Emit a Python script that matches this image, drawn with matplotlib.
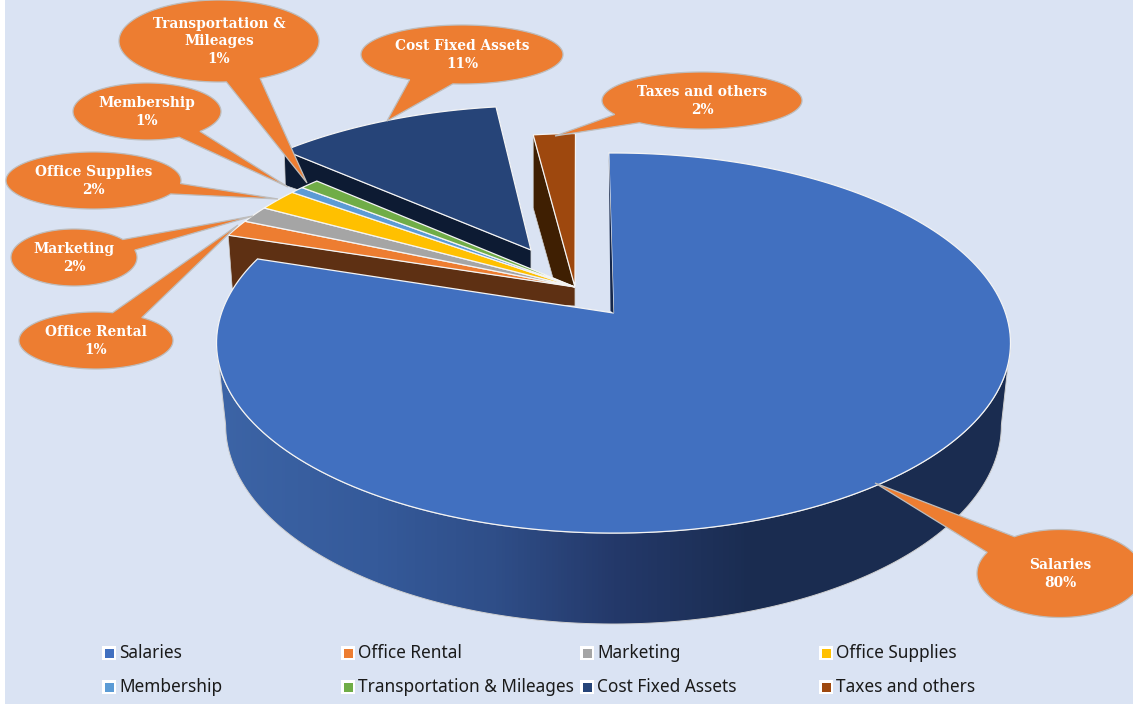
import numpy as np
import matplotlib
matplotlib.use('Agg')
import matplotlib.pyplot as plt
from matplotlib.colors import LinearSegmentedColormap
from matplotlib.patches import Polygon, Rectangle

categories = ['Salaries', 'Office Rental', 'Marketing', 'Office Supplies', 'Membership',
              'Transportation & Mileages', 'Cost Fixed Assets', 'Taxes and others']
shares = [80.17, 1.49, 1.51, 1.94, 0.64, 0.92, 11.3, 2.03]
pct_labels = ['80%', '1%', '2%', '2%', '1%', '1%', '11%', '2%']
colors = ['#4170C0', '#ED7D31', '#A5A5A5', '#FFC000', '#5B9BD5', '#70AD47', '#264478', '#9E480E']
label_lines = ['Salaries', 'Office Rental', 'Marketing', 'Office Supplies', 'Membership',
               'Transportation &\nMileages', 'Cost Fixed Assets', 'Taxes and others']

BG = '#DAE3F3'
ORANGE = '#ED7D31'
W, H = 1133, 704

# camera: apex x, apex y, A, B, k for the top and bottom planes of the pie
TOP = (613.5, 313, 392, 185.3, 0.158)
BOTTOM = (613.5, 393.6, 383, 194, 0.158)
START = -0.8

# how far each slice is pulled out, in plane units
offsets = [(0, 0)] + [(-0.1005, 0.1435)] * 5 + [(-0.2225, 0.3593), (-0.1005, 0.1435)]

# centre x, centre y, rx, ry, tip x, tip y, half width of tail in degrees
callouts = [
    (1060, 573.5, 83, 44, 875, 483, 14),
    (96, 340.5, 77, 28.5, 238, 225, 12),
    (74, 257.5, 63, 28.5, 253, 216, 12),
    (93.5, 180.5, 87.5, 28.5, 278, 199, 11),
    (147, 111.5, 74, 28.5, 288, 187, 10),
    (219, 41, 100, 41, 307, 183, 10),
    (462, 54.5, 101, 29.5, 387, 121, 13),
    (702, 100.5, 100, 28.5, 555, 136, 11),
]


def project(u, v, plane=TOP):
    x0, y0, a, b, k = plane
    f = 1 + k * np.asarray(v)
    return x0 + a * np.asarray(u) / f, y0 - b * np.asarray(v) / f


def arc(t0, t1, off=(0, 0), plane=TOP, n=200):
    t = np.radians(np.linspace(t0, t1, n))
    x, y = project(off[0] + np.sin(t), off[1] + np.cos(t), plane)
    return np.column_stack([x, y])


def wedge_pts(t0, t1, off=(0, 0), plane=TOP):
    apex = np.array(project(off[0], off[1], plane))
    return np.vstack([apex, arc(t0, t1, off, plane)])


edges = START + np.concatenate([[0], np.cumsum(shares)]) * 3.6

fig = plt.figure(figsize=(W / 100, H / 100), dpi=100)
ax = fig.add_axes([0, 0, 1, 1])
ax.set_facecolor(BG)
ax.axis('off')
fig.patch.set_facecolor(BG)
ax.add_patch(Rectangle((0, 0), 5, H, fc='white', ec='none', zorder=0))


def side_wall(idx, outer_drop, inner_drop, color, z):
    off = offsets[idx]
    apex = np.array(project(off[0], off[1]))
    outer = arc(edges[idx], edges[idx], off, n=1)[0]
    pts = [apex, outer, outer + outer_drop, apex + inner_drop]
    ax.add_patch(Polygon(pts, closed=True, fc=color, ec='#D0D0D0', lw=0.5, zorder=z))


def top_face(idx, z):
    ax.add_patch(Polygon(wedge_pts(edges[idx], edges[idx + 1], offsets[idx]), closed=True,
                         fc=colors[idx], ec='#F4F4F4', lw=0.9, zorder=z))


# taxes, then cost fixed assets, then the small group, salaries last
side_wall(7, (0, 73), (-22, -9), '#3F1F02', 2)
top_face(7, 3)
side_wall(6, (1, 35), (0, 19), '#0D1B33', 4)
top_face(6, 5)
side_wall(1, (4, 53), (0, 19), '#5E3013', 6)
for i in [1, 2, 3, 4, 5]:
    top_face(i, 7)

# front wall of salaries with the left to right shading, between the two silhouette points
side_t = np.degrees(np.arccos(-TOP[4]))
wall = np.vstack([arc(side_t, 360 - side_t, plane=BOTTOM), arc(360 - side_t, side_t)])
wall_patch = Polygon(wall, closed=True, fc='none', ec='#D0D0D0', lw=0.7, zorder=9)
ax.add_patch(wall_patch)
shade = LinearSegmentedColormap.from_list('wall', [(0, '#3C64A6'), (0.2, '#355A9A'), (0.35, '#2F4E88'),
                                                   (0.5, '#24396A'), (0.68, '#1A2C50'), (1, '#1A2C50')])
im = ax.imshow(np.linspace(0, 1, 256)[None, :], extent=(217, 1011, 650, 150), cmap=shade,
               aspect='auto', zorder=8)
im.set_clip_path(wall_patch)

top_face(0, 10)
inner = arc(edges[0], edges[0], n=1)[0]
apex0 = np.array(project(0, 0))
ax.add_patch(Polygon([inner, apex0, apex0 + (-3, -2)], closed=True, fc='#14264A', ec='none', zorder=11))

# callouts, ellipse and tail are one outline
for (cx, cy, rx, ry, tx, ty, half), name, pct in zip(callouts, label_lines, pct_labels):
    d = np.arctan2((ty - cy) / ry, (tx - cx) / rx)
    t = np.linspace(d + np.radians(half), d + 2 * np.pi - np.radians(half), 200)
    pts = np.column_stack([cx + rx * np.cos(t), cy + ry * np.sin(t)])
    pts = np.vstack([pts, (tx, ty)])
    ax.add_patch(Polygon(pts, closed=True, fc=ORANGE, ec='#BDBDBD', lw=0.9, zorder=20))
    ax.text(cx, cy + 0.5, name + '\n' + pct, color='white', family='DejaVu Serif', weight='bold',
            fontsize=9.9, ha='center', va='center', linespacing=1.32, zorder=21)

# legend
leg_x = [102, 341, 580, 819]
leg_y = [653, 687]
for i, name in enumerate(categories):
    x = leg_x[i % 4]
    y = leg_y[i // 4]
    ax.add_patch(Rectangle((x, y - 7), 14, 14, fc='white', ec='none', zorder=5))
    ax.add_patch(Rectangle((x + 3, y - 4), 8.5, 8.5, fc=colors[i], ec='none', zorder=6))
    ax.text(x + 17, y, name, color='#1A1A1A', family='Noto Sans', fontsize=12.4,
            ha='left', va='center', zorder=6)

ax.set_xlim(0, W)
ax.set_ylim(H, 0)
fig.savefig('out.png', dpi=100, facecolor=BG)
